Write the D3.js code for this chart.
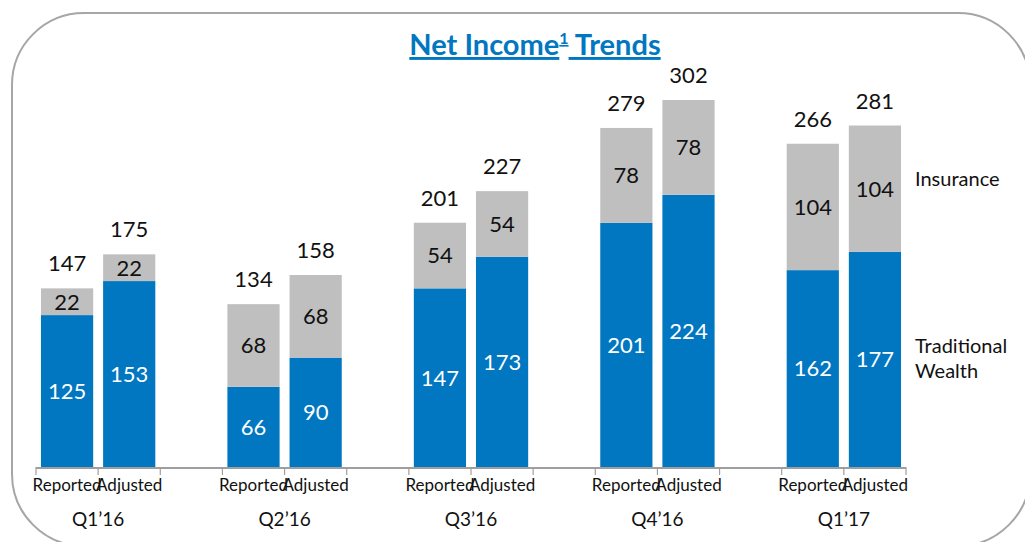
<!DOCTYPE html>
<html>
<head>
  <meta charset="UTF-8">
  <title>Net Income Trends</title>
  <style>
    body { margin: 0; background: #fff; }
    svg text { font-family: Lato, "Open Sans", sans-serif; }
  </style>
</head>
<body>
  <svg id="chart" width="1025" height="542"></svg>

  <script src="https://d3js.org/d3.v7.min.js"></script>
  <script>
    // chart data
    var quarters = ["Q1\u201916", "Q2\u201916", "Q3\u201916", "Q4\u201916", "Q1\u201917"];
    var kinds = ["Reported", "Adjusted"];
    var reportedWealth = [125, 66, 147, 201, 162];
    var reportedInsurance = [22, 68, 54, 78, 104];
    var adjustedWealth = [153, 90, 173, 224, 177];
    var adjustedInsurance = [22, 68, 54, 78, 104];
    var seriesNames = ["Traditional Wealth", "Insurance"];

    var blue = "#0077c0", grey = "#bfbfbf";

    var svg = d3.select("#chart");

    // rounded frame (runs off the right and bottom edges)
    svg.append("rect")
      .attr("x", 12).attr("y", 13)
      .attr("width", 1018).attr("height", 533)
      .attr("rx", 72).attr("ry", 72)
      .attr("fill", "none")
      .attr("stroke", "#a6a6a6")
      .attr("stroke-width", 2);

    // title
    var title = svg.append("text")
      .attr("x", 535).attr("y", 55)
      .attr("text-anchor", "middle")
      .attr("fill", blue)
      .style("font-weight", "bold")
      .style("font-size", "29px")
      .style("text-decoration", "underline");
    title.append("tspan").text("Net Income");
    title.append("tspan").attr("dy", -11).style("font-size", "16px").text("1");
    title.append("tspan").attr("dy", 11).text(" Trends");

    // build rows and slots (a blank slot between quarters)
    var rows = [];
    var slots = [];
    quarters.forEach(function(q, i) {
      rows.push({key: q + "|Reported", quarter: q, kind: kinds[0], wealth: reportedWealth[i], insurance: reportedInsurance[i]});
      rows.push({key: q + "|Adjusted", quarter: q, kind: kinds[1], wealth: adjustedWealth[i], insurance: adjustedInsurance[i]});
      slots.push(q + "|Reported", q + "|Adjusted");
      if (i < quarters.length - 1) slots.push(q + "|gap");
    });

    var x = d3.scaleBand()
      .domain(slots)
      .range([36, 906])
      .paddingInner(0.16)
      .paddingOuter(0.08);

    var baseY = 467;
    var y = d3.scaleLinear()
      .domain([0, 302])
      .range([baseY, 100]);

    var stackData = d3.stack().keys(["wealth", "insurance"])(rows);
    var colors = {wealth: blue, insurance: grey};

    var g = svg.append("g");

    g.selectAll(".serie")
      .data(stackData)
      .enter().append("g")
        .attr("class", "serie")
        .attr("fill", function(d) { return colors[d.key]; })
      .selectAll("rect")
      .data(function(d) { return d; })
      .enter().append("rect")
        .attr("x", function(d) { return x(d.data.key); })
        .attr("y", function(d) { return y(d[1]); })
        .attr("width", x.bandwidth())
        .attr("height", function(d) { return y(d[0]) - y(d[1]); });

    // labels inside segments
    stackData.forEach(function(s) {
      g.selectAll(".lbl-" + s.key)
        .data(s)
        .enter().append("text")
          .attr("x", function(d) { return x(d.data.key) + x.bandwidth() / 2; })
          .attr("y", function(d) { return (y(d[0]) + y(d[1])) / 2; })
          .attr("dy", "0.36em")
          .attr("text-anchor", "middle")
          .attr("fill", s.key == "wealth" ? "#fff" : "#111")
          .style("font-size", "22px")
          .text(function(d) { return d[1] - d[0]; });
    });

    // totals on top
    g.selectAll(".total")
      .data(rows)
      .enter().append("text")
        .attr("x", function(d) { return x(d.key) + x.bandwidth() / 2; })
        .attr("y", function(d) { return y(d.wealth + d.insurance) - 17; })
        .attr("text-anchor", "middle")
        .attr("fill", "#111")
        .style("font-size", "22px")
        .text(function(d) { return d.wealth + d.insurance; });

    // axis line with ticks at slot edges
    var step = x.step();
    var x0 = 36, x1 = 906;
    g.append("line")
      .attr("x1", x0).attr("x2", x1)
      .attr("y1", baseY + 1).attr("y2", baseY + 1)
      .attr("stroke", "#9e9e9e").attr("stroke-width", 2);
    var edges = d3.range(slots.length + 1).map(function(i) { return x0 + i * (x1 - x0) / slots.length; });
    g.selectAll(".tick")
      .data(edges)
      .enter().append("line")
        .attr("x1", function(d) { return d; }).attr("x2", function(d) { return d; })
        .attr("y1", baseY).attr("y2", baseY + 8)
        .attr("stroke", "#9e9e9e").attr("stroke-width", 1.2);

    // category labels
    g.selectAll(".kind")
      .data(rows)
      .enter().append("text")
        .attr("x", function(d) { return x(d.key) + x.bandwidth() / 2; })
        .attr("y", 491)
        .attr("text-anchor", "middle")
        .attr("fill", "#111")
        .style("font-size", "17px")
        .text(function(d) { return d.kind; });

    g.selectAll(".quarter")
      .data(quarters)
      .enter().append("text")
        .attr("x", function(d) { return x(d + "|Adjusted") - (step - x.bandwidth()) / 2; })
        .attr("y", 526)
        .attr("text-anchor", "middle")
        .attr("fill", "#111")
        .style("font-size", "19px")
        .text(function(d) { return d; });

    // series legend at the right
    var legendX = 915;
    svg.append("text")
      .attr("x", legendX).attr("y", 186)
      .attr("fill", "#111")
      .style("font-size", "20px")
      .text(seriesNames[1]);
    var tw = svg.append("text")
      .attr("x", legendX).attr("y", 353)
      .attr("fill", "#111")
      .style("font-size", "20px");
    tw.append("tspan").attr("x", legendX).text(seriesNames[0].split(" ")[0]);
    tw.append("tspan").attr("x", legendX).attr("dy", 25).text(seriesNames[0].split(" ")[1]);
  </script>
</body>
</html>
